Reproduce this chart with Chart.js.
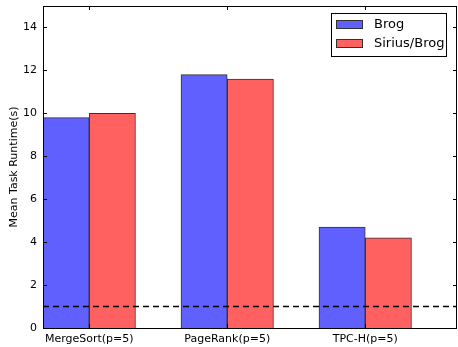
<!DOCTYPE html>
<html>
<head>
<meta charset="utf-8">
<script src="https://cdn.jsdelivr.net/npm/chart.js@4"></script>
<style>
  html, body { margin: 0; padding: 0; background: #fff; }
  #wrap { width: 458px; height: 347px; }
</style>
</head>
<body>
<div id="wrap"><canvas id="runtime-chart" width="458" height="347"></canvas></div>
<script>
// data
const categories = ['MergeSort(p=5)', 'PageRank(p=5)', 'TPC-H(p=5)'];
const brog = [9.8, 11.8, 4.7];
const siriusBrog = [10.0, 11.6, 4.2];
const baseline = 1;
const yTicks = [0, 2, 4, 6, 8, 10, 12, 14];

const BAR_W = 0.335;
const FONT = 'DejaVu Sans';

// matplotlib-ish frame, inward ticks and a boxed legend
const framePlugin = {
  id: 'frame',
  afterDraw(chart) {
    const ctx = chart.ctx;
    const a = chart.chartArea;
    const xs = chart.scales.x, ys = chart.scales.y;
    ctx.save();
    ctx.strokeStyle = '#000';
    ctx.lineWidth = 1;
    ctx.strokeRect(Math.round(a.left) + 0.5, Math.round(a.top) + 0.5,
                   Math.round(a.right - a.left) - 1, Math.round(a.bottom - a.top));
    ctx.beginPath();
    yTicks.forEach(v => {
      const y = Math.round(ys.getPixelForValue(v)) + 0.5;
      ctx.moveTo(a.left, y); ctx.lineTo(a.left + 4, y);
      ctx.moveTo(a.right, y); ctx.lineTo(a.right - 4, y);
    });
    categories.forEach((c, i) => {
      const x = Math.round(xs.getPixelForValue(i + BAR_W)) + 0.5;
      ctx.moveTo(x, a.top); ctx.lineTo(x, a.top + 4);
      ctx.moveTo(x, a.bottom); ctx.lineTo(x, a.bottom - 4);
    });
    ctx.stroke();

    // legend
    const bx = a.right - 126, by = a.top + 7, bw = 115, bh = 43;
    ctx.fillStyle = '#fff';
    ctx.fillRect(bx, by, bw, bh);
    ctx.strokeRect(bx + 0.5, by + 0.5, bw, bh);
    ctx.font = '13px "' + FONT + '"';
    ctx.textBaseline = 'middle';
    chart.data.datasets.filter(d => d.type !== 'line').forEach((d, i) => {
      const y = by + 7 + i * 19;
      ctx.fillStyle = d.backgroundColor;
      ctx.fillRect(bx + 5, y, 27, 9);
      ctx.strokeStyle = '#333';
      ctx.strokeRect(bx + 5.5, y + 0.5, 26, 8);
      ctx.fillStyle = '#000';
      ctx.fillText(d.label, bx + 43, y + 5);
    });
    ctx.restore();
  }
};

const ctx = document.getElementById('runtime-chart').getContext('2d');
new Chart(ctx, {
  type: 'bar',
  data: {
    datasets: [
      {
        label: 'Brog',
        data: brog.map((v, i) => ({ x: i + BAR_W / 2, y: v })),
        backgroundColor: 'rgb(96,96,255)',
        borderColor: '#333',
        borderWidth: 1,
        order: 2
      },
      {
        label: 'Sirius/Brog',
        data: siriusBrog.map((v, i) => ({ x: i + BAR_W * 1.5, y: v })),
        backgroundColor: 'rgb(255,96,96)',
        borderColor: '#333',
        borderWidth: 1,
        order: 2
      },
      {
        type: 'line',
        label: 'baseline',
        data: [{ x: 0, y: baseline }, { x: 3, y: baseline }],
        borderColor: '#000',
        borderWidth: 1.5,
        borderDash: [6, 4],
        pointRadius: 0,
        fill: false,
        order: 0
      }
    ]
  },
  options: {
    responsive: false,
    animation: false,
    grouped: false,
    barPercentage: 1,
    categoryPercentage: 1,
    layout: { padding: { top: 6, right: 1, left: 0, bottom: 0 } },
    plugins: {
      legend: { display: false },
      tooltip: { enabled: false }
    },
    scales: {
      x: {
        type: 'linear',
        min: 0,
        max: 3,
        offset: false,
        grid: { display: false, drawTicks: false },
        border: { display: false },
        afterBuildTicks: s => { s.ticks = categories.map((c, i) => ({ value: i + BAR_W })); },
        afterFit: s => { s.height = 19; },
        ticks: {
          color: '#000',
          padding: 5,
          maxRotation: 0,
          autoSkip: false,
          font: { family: FONT, size: 11 },
          callback: (v, i) => categories[i]
        }
      },
      y: {
        min: 0,
        max: 15,
        grid: { display: false, drawTicks: false },
        border: { display: false },
        afterBuildTicks: s => { s.ticks = yTicks.map(v => ({ value: v })); },
        afterFit: s => { s.width = 43; s.paddingTop = 0; s.paddingBottom = 0; },
        title: {
          display: true,
          text: 'Mean Task Runtime(s)',
          color: '#000',
          font: { family: FONT, size: 11 },
          padding: { top: 8, bottom: 0 }
        },
        ticks: {
          color: '#000',
          padding: 6,
          font: { family: FONT, size: 11 }
        }
      }
    }
  },
  plugins: [framePlugin]
});
</script>
</body>
</html>
